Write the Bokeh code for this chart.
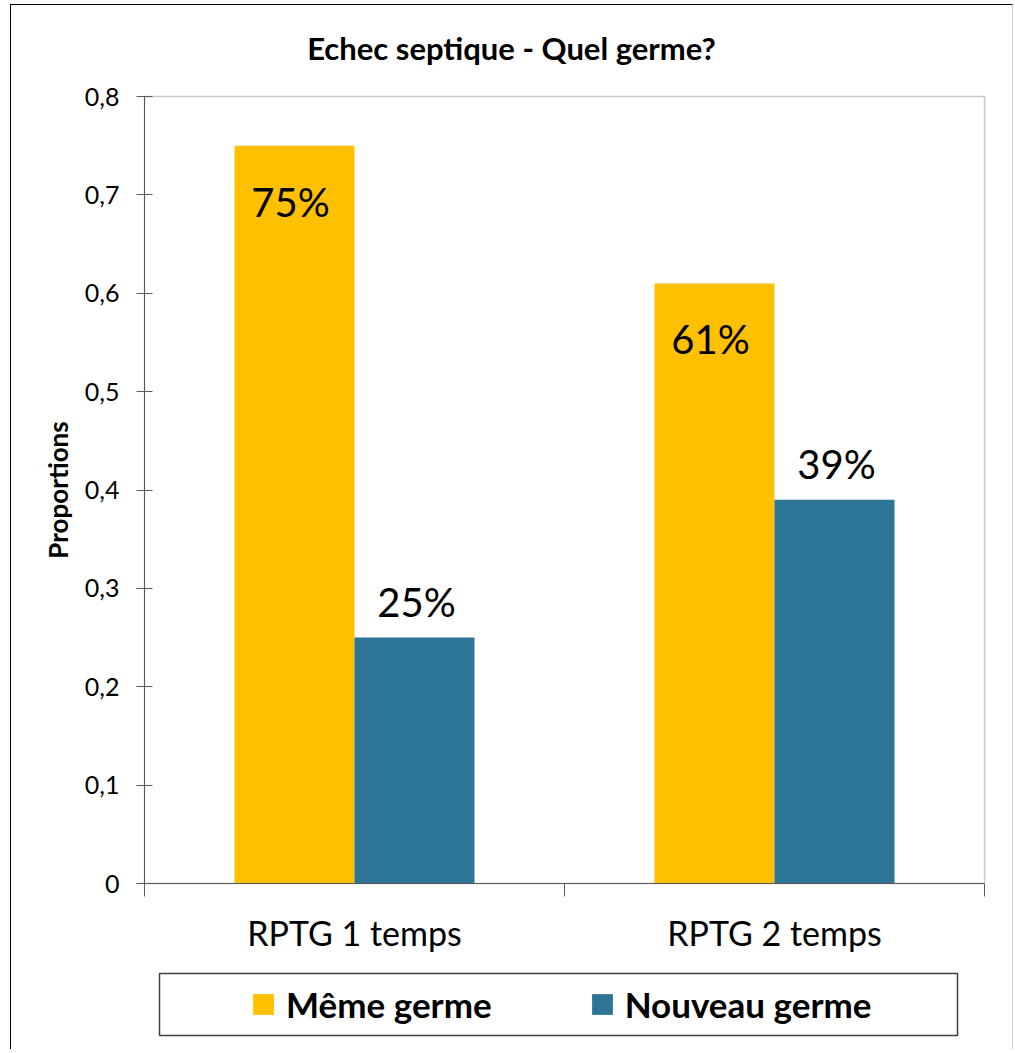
from bokeh.plotting import figure
from bokeh.layouts import column
from bokeh.models import (Range1d, FixedTicker, CustomJSTickFormatter, Legend, LegendItem,
                          ColumnDataSource, Div)
from bokeh.core.properties import value
from bokeh.embed import file_html
from bokeh.resources import INLINE

# ---- data ----
categories = ["RPTG 1 temps", "RPTG 2 temps"]
series_names = ["Même germe", "Nouveau germe"]
meme_germe = [0.75, 0.61]
nouveau_germe = [0.25, 0.39]
y_ticks = [0, 0.1, 0.2, 0.3, 0.4, 0.5, 0.6, 0.7, 0.8]
title_text = "Echec septique - Quel germe?"
y_label = "Proportions"

YELLOW = "#FFC000"
BLUE = "#2C7596"
FONT = "Lato"
AXIS = "#595959"

n = len(categories)
bar_w = 2 / 7  # fraction of a category slot
centers = [i + 0.5 for i in range(n)]
x_yellow = [c - bar_w / 2 for c in centers]
x_blue = [c + bar_w / 2 for c in centers]

src_y = ColumnDataSource(dict(x=x_yellow, top=meme_germe,
                              lab=[f"{round(v * 100)}%" for v in meme_germe]))
src_b = ColumnDataSource(dict(x=x_blue, top=nouveau_germe,
                              lab=[f"{round(v * 100)}%" for v in nouveau_germe]))

# title block
title_div = Div(text=title_text, width=991, height=61,
                styles={"font-family": FONT, "font-weight": "bold", "font-size": "31px",
                        "color": "black", "text-align": "center", "line-height": "76px",
                        "background-color": "white"})

p = figure(width=997, height=883, x_range=Range1d(0, n), y_range=Range1d(0, y_ticks[-1]),
           output_backend="svg", toolbar_location=None,
           min_border_left=133, min_border_right=24, min_border_top=20, min_border_bottom=76)
p.frame_align = False
p.title.visible = False

p.background_fill_color = "white"
p.border_fill_color = "white"
p.outline_line_color = "#C8C8C8"
p.outline_line_width = 1.5
p.xgrid.visible = False
p.ygrid.visible = False

r1 = p.vbar(x="x", top="top", bottom=0, width=bar_w, source=src_y, fill_color=YELLOW, line_color=None)
r2 = p.vbar(x="x", top="top", bottom=0, width=bar_w, source=src_b, fill_color=BLUE, line_color=None)

p.text(x="x", y="top", text="lab", source=src_y, text_align="center", text_baseline="middle",
       y_offset=56, x_offset=-4, text_font=value(FONT), text_font_size="40px", text_color="black")
p.text(x="x", y="top", text="lab", source=src_b, text_align="center", text_baseline="middle",
       y_offset=-36, x_offset=2, text_font=value(FONT), text_font_size="40px", text_color="black")

# y axis
ya = p.yaxis[0]
ya.ticker = FixedTicker(ticks=y_ticks)
ya.formatter = CustomJSTickFormatter(code="return tick == 0 ? '0' : tick.toFixed(1).replace('.', ',');")
ya.major_label_text_font = FONT
ya.major_label_text_font_size = "25px"
ya.major_label_text_color = "black"
ya.major_tick_in = 8
ya.major_tick_out = 8
ya.minor_tick_line_color = None
ya.major_label_standoff = 17
ya.axis_line_color = AXIS
ya.major_tick_line_color = AXIS
ya.axis_label = y_label
ya.axis_label_text_font = FONT
ya.axis_label_text_font_style = "bold"
ya.axis_label_text_font_size = "26px"
ya.axis_label_text_color = "black"
ya.axis_label_standoff = 8

# x axis
xa = p.xaxis[0]
xa.ticker = FixedTicker(ticks=centers, minor_ticks=list(range(n + 1)))
xa.major_label_overrides = {c: categories[i] for i, c in enumerate(centers)}
xa.major_tick_line_color = None
xa.major_tick_out = 0
xa.major_tick_in = 0
xa.minor_tick_out = 13
xa.minor_tick_in = 0
xa.minor_tick_line_color = AXIS
xa.axis_line_color = AXIS
xa.major_label_text_font = FONT
xa.major_label_text_font_size = "34px"
xa.major_label_text_color = "black"
xa.major_label_standoff = 15

# legend panel (second figure whose frame is the legend box)
p2 = figure(width=997, height=90, x_range=Range1d(10, 11), y_range=Range1d(10, 11),
            output_backend="svg", toolbar_location=None,
            x_axis_location=None, y_axis_location=None,
            min_border_left=148, min_border_right=51, min_border_top=14, min_border_bottom=14)
p2.frame_align = False
p2.xgrid.visible = False
p2.ygrid.visible = False
p2.outline_line_color = "#404040"
p2.outline_line_width = 1.5
p2.background_fill_color = "white"
p2.border_fill_color = "white"
g1 = p2.vbar(x="x", top="top", bottom=0, width=bar_w, source=src_y, fill_color=YELLOW, line_color=None)
g2 = p2.vbar(x="x", top="top", bottom=0, width=bar_w, source=src_b, fill_color=BLUE, line_color=None)

legend = Legend(items=[LegendItem(label=series_names[0], renderers=[g1]),
                       LegendItem(label=series_names[1], renderers=[g2])],
                orientation="horizontal", location="left")
legend.margin = 91
legend.padding = 10
legend.spacing = 97
legend.glyph_width = 26
legend.glyph_height = 26
legend.label_standoff = 10
legend.label_text_font = FONT
legend.label_text_font_style = "bold"
legend.label_text_font_size = "35px"
legend.label_text_color = "black"
legend.border_line_color = None
legend.background_fill_alpha = 0
p2.add_layout(legend, "center")

layout = column(title_div, p, p2, spacing=0,
                styles={"border-top": "1.5px solid black", "border-left": "1.5px solid black",
                        "border-right": "1.5px solid #D0D0D0",
                        "margin-left": "10px", "margin-top": "4px"})

open("out.html", "w").write(file_html(layout, INLINE))
